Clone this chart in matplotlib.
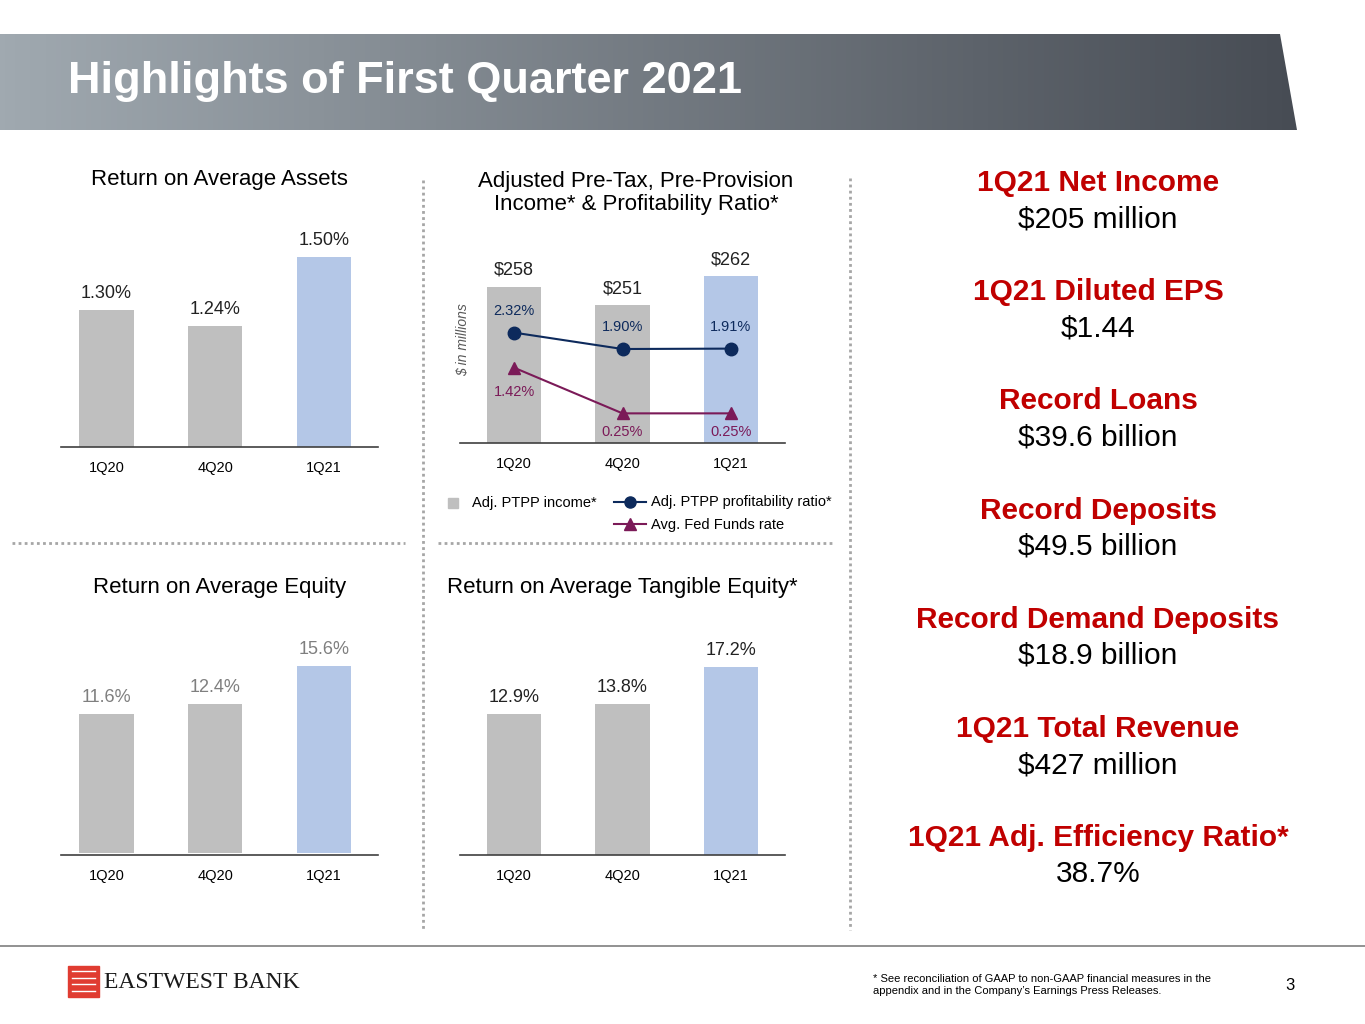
import matplotlib
matplotlib.use("Agg")
import matplotlib.pyplot as plt
import numpy as np
from matplotlib.patches import Polygon, Rectangle
from matplotlib.lines import Line2D
from matplotlib.colors import LinearSegmentedColormap

plt.rcParams['font.family'] = ['Liberation Sans', 'DejaVu Sans']

quarters = ["1Q20", "4Q20", "1Q21"]
roa = [1.30, 1.24, 1.50]
roe = [11.6, 12.4, 15.6]
rote = [12.9, 13.8, 17.2]
ptpp = [258, 251, 262]
ptpp_ratio = [2.32, 1.90, 1.91]
fed_funds = [1.42, 0.25, 0.25]
highlights = [("1Q21 Net Income", "$205 million"), ("1Q21 Diluted EPS", "$1.44"),
              ("Record Loans", "$39.6 billion"), ("Record Deposits", "$49.5 billion"),
              ("Record Demand Deposits", "$18.9 billion"), ("1Q21 Total Revenue", "$427 million"),
              ("1Q21 Adj. Efficiency Ratio*", "38.7%")]

W, H = 1365, 1024
fig = plt.figure(figsize=(W/100, H/100), dpi=100)
GRAY = "#bfbfbf"; BLUE = "#b4c7e7"; RED = "#c00000"; NAVY = "#0d2a5c"; PURP = "#7b1a58"

def fx(x): return x / W
def fy(y): return 1 - y / H

bg = fig.add_axes([0, 0, 1, 1]); bg.set_xlim(0, W); bg.set_ylim(H, 0); bg.axis('off')
grad = np.linspace(0, 1, 256)[None, :]
cm = LinearSegmentedColormap.from_list("g", ["#a0a9b0", "#474c54"])
im = bg.imshow(grad, cmap=cm, extent=[0, 1297, 130, 34], aspect='auto')
poly = Polygon([[0, 34], [1280, 34], [1297, 130], [0, 130]], closed=True, transform=bg.transData)
im.set_clip_path(poly)
bg.text(68, 82, "Highlights of First Quarter 2021", color="white", fontsize=32.5, fontweight="bold", va="center")
dot = dict(color="#a6a6a6", lw=2, ls=(0, (1, 1.2)))
bg.plot([423, 423], [180, 930], **dot)
bg.plot([850, 850], [178, 930], **dot)
bg.plot([12, 405], [543, 543], **dot)
bg.plot([438, 832], [543, 543], **dot)
bg.plot([0, W], [946, 946], color="#7f7f7f", lw=1.2)

def make_ax(x0, x1, ytop, ybot):
    ax = fig.add_axes([fx(x0), fy(ybot), fx(x1 - x0), (ybot - ytop) / H])
    ax.set_facecolor('none')
    return ax

def style(ax, xl):
    xs = np.arange(3)
    ax.set_xlim(*xl)
    for s in ["top", "right", "left"]: ax.spines[s].set_visible(False)
    ax.spines["bottom"].set_color("#404040"); ax.spines["bottom"].set_linewidth(1.2)
    ax.set_yticks([]); ax.set_xticks(xs); ax.set_xticklabels(quarters, fontsize=10.5)
    ax.tick_params(axis='x', length=0, pad=10)

def bar_chart(x0, x1, ytop, ybot, xl, title, ty, vals, lo, ppu, fmt, lblcol):
    ax = make_ax(x0, x1, ytop, ybot)
    xs = np.arange(3)
    ax.bar(xs, vals, width=0.5, color=[GRAY, GRAY, BLUE])
    ax.set_ylim(lo, lo + (ybot - ytop) / ppu)
    for i, v in enumerate(vals):
        ax.text(i, v + 8 / ppu, fmt(v), ha="center", va="bottom", fontsize=13, color=lblcol)
    style(ax, xl)
    fig.text(fx((x0 + x1) / 2), fy(ty), title, ha="center", va="center", fontsize=16)
    return ax

bar_chart(61, 378, 200, 447, (-0.42, 2.5), "Return on Average Assets", 180, roa, 0.783, 265, lambda v: f"{v:.2f}%", "#222222")
bar_chart(61, 378, 610, 855, (-0.42, 2.5), "Return on Average Equity", 588, roe, -0.15, 12, lambda v: f"{v:.1f}%", "#7f7f7f")
bar_chart(460, 785, 610, 855, (-0.5, 2.5), "Return on Average Tangible Equity*", 588, rote, 0.0, 10.93, lambda v: f"{v:.1f}%", "#222222")

# PTPP chart
ytop, ybot = 235, 443
ax = make_ax(460, 785, ytop, ybot)
xs = np.arange(3)
ax.bar(xs, ptpp, width=0.5, color=[GRAY, GRAY, BLUE])
ppu = 2.65; lo = 199
ax.set_ylim(lo, lo + (ybot - ytop) / ppu)
for i, v in enumerate(ptpp):
    ax.text(i, v + 8 / ppu, f"${v}", ha="center", va="bottom", fontsize=13, color="#222222")
style(ax, (-0.5, 2.5))
ax2 = ax.twinx()
lo2, ppu2 = -0.51, 39
ax2.set_ylim(lo2, lo2 + (ybot - ytop) / ppu2)
ax2.axis('off')
ax2.plot(xs, ptpp_ratio, color=NAVY, marker='o', ms=9, lw=1.5)
ax2.plot(xs, fed_funds, color=PURP, marker='^', ms=9, lw=1.5)
for i, v in enumerate(ptpp_ratio):
    ax2.text(i, v + 22 / ppu2, f"{v:.2f}%", ha="center", va="center", fontsize=10.5, color=NAVY)
for i, v in enumerate(fed_funds):
    off = 24 if i == 0 else 19
    ax2.text(i, v - off / ppu2, f"{v:.2f}%", ha="center", va="center", fontsize=10.5, color=PURP)
fig.text(fx(463), fy(340), "$ in millions", rotation=90, ha="center", va="center", fontsize=10, style="italic", color="#595959")
fig.text(fx(636), fy(193), "Adjusted Pre-Tax, Pre-Provision\nIncome* & Profitability Ratio*", ha="center", va="center", fontsize=16, linespacing=1.15)

# legend
bg.add_patch(Rectangle((448, 498), 10, 10, color=GRAY))
bg.text(472, 503, "Adj. PTPP income*", fontsize=10.5, va="center")
bg.add_line(Line2D([614, 646], [502, 502], color=NAVY, lw=1.5))
bg.add_line(Line2D([614, 646], [524, 524], color=PURP, lw=1.5))
bg.plot([630], [524], marker='^', color=PURP, ms=8)
bg.plot([630], [502], marker='o', color=NAVY, ms=8)
bg.text(651, 502, "Adj. PTPP profitability ratio*", fontsize=10.5, va="center")
bg.text(651, 525, "Avg. Fed Funds rate", fontsize=10.5, va="center")

for k, (t, v) in enumerate(highlights):
    y0 = 183 + k * 109.2
    bg.text(1098, y0, t, ha="center", va="center", fontsize=21.5, fontweight="bold", color=RED)
    bg.text(1098, y0 + 36, v, ha="center", va="center", fontsize=21.5, color="black")

# footer
bg.add_patch(Rectangle((68, 966), 31, 31, color="#e03c31"))
for j in range(4):
    bg.plot([72, 95], [971 + j * 6.5, 971 + j * 6.5], color="white", lw=1)
bg.text(104, 982, "EASTWEST BANK", fontsize=17, family="Liberation Serif", va="center", color="#1a1a1a")
bg.text(873, 985, "* See reconciliation of GAAP to non-GAAP financial measures in the\nappendix and in the Company\u2019s Earnings Press Releases.", fontsize=8, va="center", linespacing=1.3)
bg.text(1290, 986, "3", fontsize=12, ha="center", va="center")
bg.set_xlim(0, W); bg.set_ylim(H, 0)

fig.savefig("out.png", dpi=100)
